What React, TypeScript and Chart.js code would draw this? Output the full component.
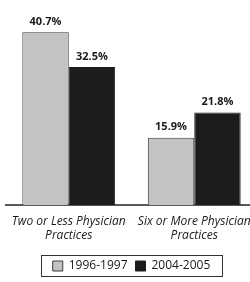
import React, { useEffect, useRef } from "react";
import { Chart, registerables } from "chart.js";

Chart.register(...registerables);

const categories: string[][] = [
  ["Two or Less Physician", "Practices"],
  ["Six or More Physician", "Practices"],
];
const seriesNames = ["1996-1997", "2004-2005"];
const series1996: number[] = [40.7, 15.9];
const series2004: number[] = [32.5, 21.8];

const FONT = "'Open Sans', 'DejaVu Sans', sans-serif";
const LEGEND_SIZE = 12;
const LEGEND_BOX = 10;

const valueLabels = {
  id: "valueLabels",
  afterDatasetsDraw(chart: any) {
    const ctx = chart.ctx;
    ctx.save();
    ctx.font = `bold 11px ${FONT}`;
    ctx.fillStyle = "#1a1a1a";
    ctx.textAlign = "center";
    ctx.textBaseline = "bottom";
    chart.data.datasets.forEach((ds: any, i: number) => {
      const meta = chart.getDatasetMeta(i);
      meta.data.forEach((bar: any, j: number) => {
        ctx.fillText(ds.data[j].toFixed(1) + "%", bar.x, bar.y - 5);
      });
    });
    ctx.restore();
  },
};

const legendFrame = {
  id: "legendFrame",
  afterDraw(chart: any) {
    const lg = chart.legend;
    if (!lg || !lg.legendHitBoxes || !lg.legendHitBoxes.length) return;
    const boxes = lg.legendHitBoxes;
    const ctx = chart.ctx;
    ctx.save();
    ctx.font = `${LEGEND_SIZE}px ${FONT}`;
    const lastIdx = boxes.length - 1;
    const lastText = chart.data.datasets[lastIdx].label;
    const lastRight = boxes[lastIdx].left + LEGEND_BOX + LEGEND_SIZE / 2 + ctx.measureText(lastText).width;
    const left = boxes[0].left - 12;
    const right = lastRight + 11;
    const top = Math.min(...boxes.map((b: any) => b.top)) - 5;
    const bottom = Math.max(...boxes.map((b: any) => b.top + b.height)) + 4;
    ctx.strokeStyle = "#333";
    ctx.lineWidth = 1;
    ctx.strokeRect(Math.round(left) + 0.5, Math.round(top) + 0.5, Math.round(right - left), Math.round(bottom - top));
    ctx.restore();
  },
};

export default function App() {
  const ref = useRef<HTMLCanvasElement | null>(null);
  useEffect(() => {
    if (!ref.current) return;
    const chart = new Chart(ref.current, {
      type: "bar",
      data: {
        labels: categories,
        datasets: [
          {
            label: seriesNames[0],
            data: series1996,
            backgroundColor: "#c3c3c3",
            borderColor: "#3a3a3a",
            borderWidth: 1,
            borderSkipped: "bottom",
          },
          {
            label: seriesNames[1],
            data: series2004,
            backgroundColor: "#1c1c1c",
            borderColor: "#1c1c1c",
            borderWidth: 1,
            borderSkipped: "bottom",
          },
        ],
      },
      options: {
        responsive: false,
        animation: false,
        layout: { padding: { left: 6, right: 11, top: 14, bottom: 0 } },
        datasets: { bar: { categoryPercentage: 0.74, barPercentage: 1 } },
        plugins: {
          tooltip: { enabled: false },
          legend: {
            position: "bottom",
            labels: {
              boxWidth: LEGEND_BOX,
              boxHeight: LEGEND_BOX,
              padding: 8,
              color: "#1a1a1a",
              font: { family: FONT, size: LEGEND_SIZE },
            },
          },
        },
        scales: {
          y: { display: false, min: 0, max: 45 },
          x: {
            grid: { display: false },
            border: { display: true, color: "#5a5a5a", width: 2 },
            ticks: {
              padding: 1,
              color: "#1a1a1a",
              font: { family: FONT, size: 12, style: "italic" },
            },
            afterFit(scale: any) {
              scale.height += 8;
            },
          },
        },
      },
      plugins: [valueLabels, legendFrame],
    } as any);
    return () => chart.destroy();
  }, []);
  return (
    <div style={{ position: "absolute", left: 0, top: 0, width: 250, height: 282, overflow: "hidden", background: "#fff" }}>
      <canvas ref={ref} width={268} height={282} style={{ display: "block" }} />
    </div>
  );
}
